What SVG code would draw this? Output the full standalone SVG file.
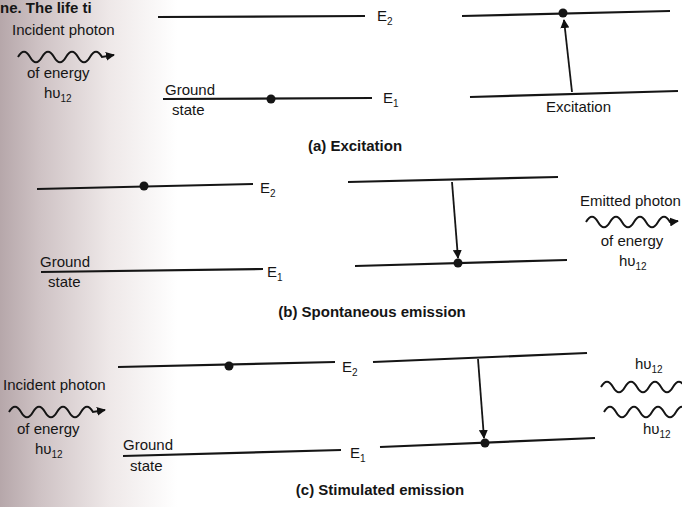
<svg xmlns="http://www.w3.org/2000/svg" width="682" height="507" viewBox="0 0 682 507">
<defs>
<linearGradient id="bg" x1="0" y1="0" x2="682" y2="0" gradientUnits="userSpaceOnUse">
<stop offset="0" stop-color="#b6a7aa"/>
<stop offset="0.06" stop-color="#cfc3c5"/>
<stop offset="0.16" stop-color="#eee8e8"/>
<stop offset="0.26" stop-color="#ffffff"/>
<stop offset="1" stop-color="#ffffff"/>
</linearGradient>
<marker id="ah" viewBox="0 0 10 10" refX="9" refY="5" markerWidth="5" markerHeight="5" orient="auto" markerUnits="strokeWidth">
<path d="M0,0 L10,5 L0,10 z" fill="#111"/>
</marker>
<marker id="ahv" viewBox="0 0 10 10" refX="9" refY="5" markerWidth="4.5" markerHeight="4.5" orient="auto" markerUnits="strokeWidth">
<path d="M0,0 L10,5 L0,10 z" fill="#111"/>
</marker>
</defs>
<style>
text{font-family:"Liberation Sans",Arial,sans-serif;font-size:15px;fill:#151515}
.b{font-weight:bold}
.lv{stroke:#151515;stroke-width:2.2;fill:none}
.ar{stroke:#151515;stroke-width:1.8;fill:none}
.wv{stroke:#151515;stroke-width:2;fill:none}
.dot{fill:#151515}
.sub{font-size:10px}
</style>
<rect width="682" height="507" fill="url(#bg)"/>
<text x="0" y="13" class="b" font-size="13">ne. The life ti</text>

<g id="panel-a-left">
<path class="lv" d="M158,17 L365,16"/>
<text x="377" y="21">E<tspan class="sub" dy="4">2</tspan></text>
<path class="lv" d="M163,99 L372,98"/>
<circle class="dot" cx="271" cy="99" r="4.5"/>
<text x="383" y="103">E<tspan class="sub" dy="4">1</tspan></text>
<text x="165" y="95">Ground</text>
<text x="172" y="115">state</text>
</g>
<g id="incident-a">
<text x="12" y="35">Incident photon</text>
<text x="27" y="78">of energy</text>
<text x="44" y="98">hυ<tspan class="sub" dy="4">12</tspan></text>
</g>
<g id="panel-a-right">
<path class="lv" d="M462,16 L670,11"/>
<path class="lv" d="M470,97 L678,91"/>
<circle class="dot" cx="563" cy="13" r="4.5"/>
<text x="546" y="112">Excitation</text>
</g>
<text x="355" y="151" class="b" text-anchor="middle">(a) Excitation</text>

<g id="panel-b-left">
<path class="lv" d="M37,189 L253,184"/>
<circle class="dot" cx="144" cy="186" r="4.5"/>
<text x="260" y="193">E<tspan class="sub" dy="4">2</tspan></text>
<path class="lv" d="M41,272 L263,269"/>
<text x="267" y="277">E<tspan class="sub" dy="4">1</tspan></text>
<text x="40" y="267">Ground</text>
<text x="48" y="287">state</text>
</g>
<g id="panel-b-right">
<path class="lv" d="M348,182 L558,177"/>
<path class="lv" d="M355,266 L567,260"/>
<circle class="dot" cx="458" cy="263" r="4.5"/>
</g>
<g id="emitted-b">
<text x="580" y="206">Emitted photon</text>
<text x="632" y="246" text-anchor="middle">of energy</text>
<text x="619" y="266">hυ<tspan class="sub" dy="4">12</tspan></text>
</g>
<text x="372" y="317" class="b" text-anchor="middle">(b) Spontaneous emission</text>

<g id="panel-c-left">
<path class="lv" d="M118,367 L335,362"/>
<circle class="dot" cx="229" cy="366" r="4.5"/>
<text x="342" y="372">E<tspan class="sub" dy="4">2</tspan></text>
<path class="lv" d="M123,456 L341,450"/>
<text x="350" y="458">E<tspan class="sub" dy="4">1</tspan></text>
<text x="123" y="450">Ground</text>
<text x="130" y="471">state</text>
</g>
<g id="incident-c">
<text x="3" y="390">Incident photon</text>
<text x="17" y="434">of energy</text>
<text x="35" y="454">hυ<tspan class="sub" dy="4">12</tspan></text>
</g>
<g id="panel-c-right">
<path class="lv" d="M373,362 L587,353"/>
<path class="lv" d="M380,447 L595,438"/>
<circle class="dot" cx="485" cy="443" r="4.5"/>
</g>
<g id="stimulated-out">
<text x="635" y="369">hυ<tspan class="sub" dy="4">12</tspan></text>
<text x="643" y="434">hυ<tspan class="sub" dy="4">12</tspan></text>
</g>
<text x="380" y="495" class="b" text-anchor="middle">(c) Stimulated emission</text>

<g id="connectors">
<path class="ar" d="M572,92 L564,20" marker-end="url(#ah)"/>
<path class="ar" d="M452,182 L458,258" marker-end="url(#ah)"/>
<path class="ar" d="M478,359 L484,438" marker-end="url(#ah)"/>
<path class="wv" d="M18,57 c4,-7 8,-7 12,0 s8,7 12,0 s8,-7 12,0 s8,7 12,0 s8,-7 12,0 s8,7 12,0 s8,-7 12,0 l12,-2" marker-end="url(#ahv)"/>
<path class="wv" d="M586,222 c4,-7 8,-7 12,0 s8,7 12,0 s8,-7 12,0 s8,7 12,0 s8,-7 12,0 s8,7 12,0 s8,-7 12,0 l8,-1" marker-end="url(#ahv)"/>
<path class="wv" d="M9,412 c4,-7 8,-7 12,0 s8,7 12,0 s8,-7 12,0 s8,7 12,0 s8,-7 12,0 s8,7 12,0 s8,-7 12,0 l12,-2" marker-end="url(#ahv)"/>
<path class="wv" d="M601,387 c4,-7 8,-7 12,0 s8,7 12,0 s8,-7 12,0 s8,7 12,0 s8,-7 12,0 s8,7 12,0 s8,-7 12,0"/>
<path class="wv" d="M604,412 c4,-7 8,-7 12,0 s8,7 12,0 s8,-7 12,0 s8,7 12,0 s8,-7 12,0 s8,7 12,0 s8,-7 12,0"/>
</g>
</svg>
